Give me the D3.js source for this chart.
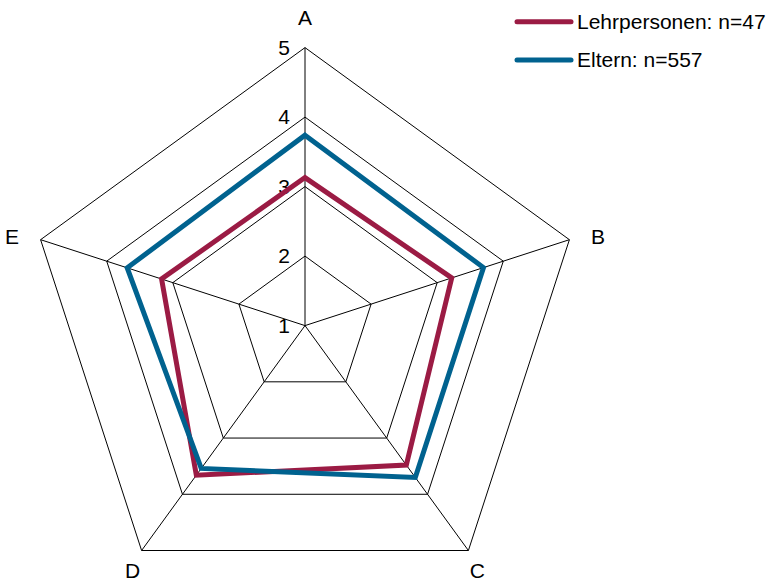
<!DOCTYPE html>
<html><head><meta charset="utf-8">
<script src="https://cdn.jsdelivr.net/npm/d3@7"></script>
<style>body{margin:0;background:#fff}svg{display:block}text{font-family:"Liberation Sans",Arial,sans-serif;fill:#000}</style>
</head><body><svg id="c" width="780" height="582"></svg>
<script>
const categories = ["A","B","C","D","E"];
const tickValues = [1,2,3,4,5];
const seriesNames = ["Lehrpersonen: n=47","Eltern: n=557"];
const lehrpersonen = [3.13, 3.22, 3.48, 3.66, 3.17];
const eltern = [3.74, 3.70, 3.70, 3.54, 3.69];
const colors = ["#9b1b44","#00628f"];

const svg = d3.select("#c");
const cx = 305, cy = 325.6, R = 278;
const r = d3.scaleLinear().domain([1,5]).range([0,R]);
const ang = d3.scaleLinear().domain([0,categories.length]).range([-Math.PI/2, 1.5*Math.PI]);
const pt = (i,v) => [cx + r(v)*Math.cos(ang(i)), cy + r(v)*Math.sin(ang(i))];

const g = svg.append("g");
tickValues.filter(t=>t>1).forEach(t=>{
  g.append("polygon")
   .attr("points", categories.map((c,i)=>pt(i,t).join(",")).join(" "))
   .attr("fill","none").attr("stroke","#000").attr("stroke-width",1);
});
categories.forEach((c,i)=>{
  const p = pt(i,5);
  g.append("line").attr("x1",cx).attr("y1",cy).attr("x2",p[0]).attr("y2",p[1])
   .attr("stroke","#000").attr("stroke-width",1);
});
tickValues.forEach(t=>{
  g.append("text").attr("x",cx-15).attr("y",cy-r(t)).attr("dy","0.35em")
   .attr("text-anchor","end").attr("font-size",21).text(t);
});
categories.forEach((c,i)=>{
  const p = pt(i,5);
  const cos = Math.cos(ang(i)), sin = Math.sin(ang(i));
  let x, y;
  if (sin < -0.9) { x = p[0]; y = p[1] - 30; }
  else if (sin < 0) { x = p[0] + cos*30; y = p[1] - 3; }
  else { x = p[0] + Math.sign(cos)*9; y = p[1] + 20.5; }
  g.append("text").attr("x",x).attr("y",y).attr("dy","0.35em")
   .attr("text-anchor","middle").attr("font-size",21).text(c);
});
const line = d3.line().curve(d3.curveLinearClosed);
[lehrpersonen, eltern].forEach((s,k)=>{
  g.append("path").attr("d", line(s.map((v,i)=>pt(i,v))))
   .attr("fill","none").attr("stroke",colors[k]).attr("stroke-width",5)
   .attr("stroke-linejoin","miter");
});
const leg = svg.append("g");
seriesNames.forEach((n,k)=>{
  const y = 21.7 + k*38.3;
  leg.append("line").attr("x1",517).attr("x2",571).attr("y1",y).attr("y2",y)
   .attr("stroke",colors[k]).attr("stroke-width",5).attr("stroke-linecap","round");
  leg.append("text").attr("x",577).attr("y",y).attr("dy","0.35em")
   .attr("font-size",21).text(n);
});
</script></body></html>
